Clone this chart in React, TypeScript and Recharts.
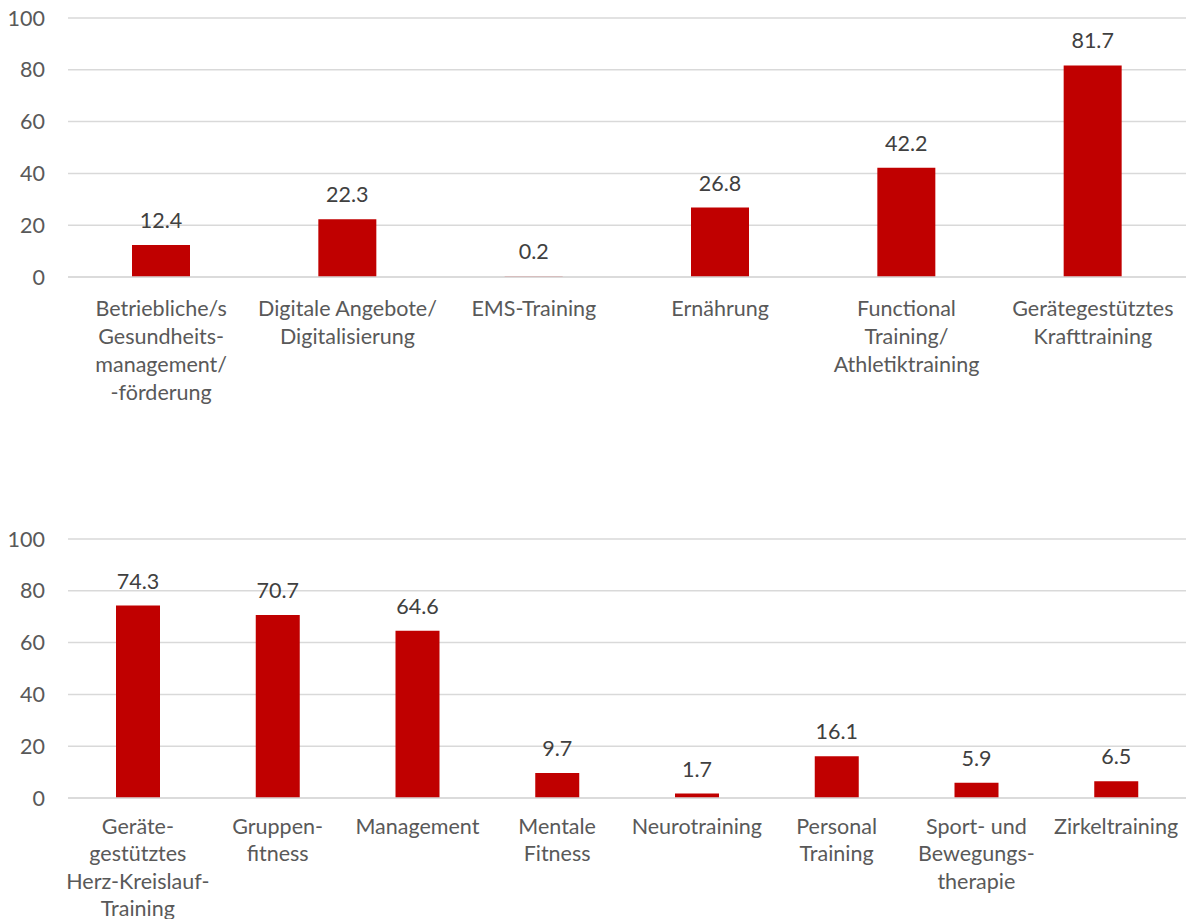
import React from "react";
import { BarChart, Bar, XAxis, YAxis, CartesianGrid, LabelList } from "recharts";

const topCategories = [
  "Betriebliche/s\nGesundheits-\nmanagement/\n-förderung",
  "Digitale Angebote/\nDigitalisierung",
  "EMS-Training",
  "Ernährung",
  "Functional\nTraining/\nAthletiktraining",
  "Gerätegestütztes\nKrafttraining",
];
const topValues = [12.4, 22.3, 0.2, 26.8, 42.2, 81.7];

const bottomCategories = [
  "Geräte-\ngestütztes\nHerz-Kreislauf-\nTraining",
  "Gruppen-\nfitness",
  "Management",
  "Mentale\nFitness",
  "Neurotraining",
  "Personal\nTraining",
  "Sport- und\nBewegungs-\ntherapie",
  "Zirkeltraining",
];
const bottomValues = [74.3, 70.7, 64.6, 9.7, 1.7, 16.1, 5.9, 6.5];

const yTicks = [0, 20, 40, 60, 80, 100];

const FONT = "Lato, 'Open Sans', sans-serif";
const FS = 21.5;
const BAR_COLOR = "#c00000";
const GRID = "#d9d9d9";

const MultiTick = (props: any) => {
  const { x, y, payload, firstDy, lineH } = props;
  const lines = String(payload.value).split("\n");
  return (
    <text x={x} y={y} textAnchor="middle" fill="#595959" fontSize={FS} fontFamily={FONT}>
      {lines.map((l: string, i: number) => (
        <tspan key={i} x={x} dy={i === 0 ? firstDy : lineH}>
          {l}
        </tspan>
      ))}
    </text>
  );
};

function Panel({ cats, vals, barSize, firstDy, lineH, height }: { cats: string[]; vals: number[]; barSize: number; firstDy: number; lineH: number; height: number }) {
  const data = cats.map((c, i) => ({ name: c, value: vals[i] }));
  return (
    <BarChart width={1189} height={height} data={data} margin={{ top: 18, right: 3, bottom: 0, left: 0 }}>
      <CartesianGrid vertical={false} stroke={GRID} strokeWidth={1.5} />
      <XAxis
        dataKey="name"
        interval={0}
        axisLine={{ stroke: GRID, strokeWidth: 1.5 }}
        tickLine={false}
        height={height - 277}
        tick={<MultiTick firstDy={firstDy} lineH={lineH} />}
      />
      <YAxis
        domain={[0, 100]}
        ticks={yTicks}
        axisLine={false}
        tickLine={false}
        width={68}
        tickMargin={17}
        tick={{ fill: "#595959", fontSize: FS, fontFamily: FONT }}
      />
      <Bar dataKey="value" fill={BAR_COLOR} barSize={barSize} isAnimationActive={false}>
        <LabelList
          dataKey="value"
          position="top"
          offset={17}
          fill="#404040"
          fontSize={FS}
          fontFamily={FONT}
          formatter={(v: any) => Number(v).toFixed(1)}
        />
      </Bar>
    </BarChart>
  );
}

export default function App() {
  return (
    <div style={{ position: "fixed", left: 0, top: 0, width: 1189, height: 919, background: "#fff", overflow: "hidden" }}>
      <div style={{ position: "absolute", left: 0, top: 0 }}>
        <Panel cats={topCategories} vals={topValues} barSize={58} firstDy={31} lineH={28} height={440} />
      </div>
      <div style={{ position: "absolute", left: 0, top: 521 }}>
        <Panel cats={bottomCategories} vals={bottomValues} barSize={44} firstDy={27.5} lineH={27.5} height={398} />
      </div>
    </div>
  );
}
